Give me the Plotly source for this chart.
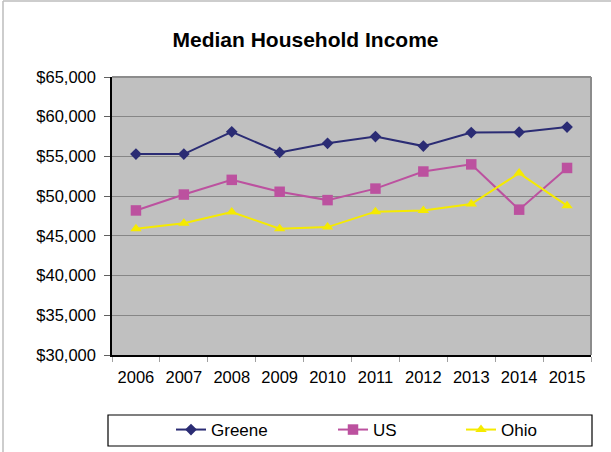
import plotly.graph_objects as go

# Median household income by year
years = ["2006", "2007", "2008", "2009", "2010", "2011", "2012", "2013", "2014", "2015"]
greene = [55300, 55300, 58100, 55500, 56650, 57500, 56300, 58000, 58050, 58700]
us = [48200, 50200, 52050, 50550, 49500, 50950, 53100, 54000, 48300, 53550]
ohio = [45900, 46600, 48000, 45900, 46100, 48050, 48200, 49000, 52900, 48800]

y_ticks = [30000, 35000, 40000, 45000, 50000, 55000, 60000, 65000]
y_tick_text = ["$30,000", "$35,000", "$40,000", "$45,000", "$50,000", "$55,000", "$60,000", "$65,000"]

FONT = "Liberation Sans, Arial, sans-serif"

series = [
    ("Greene", greene, "#2B2C74", "diamond", 9, "legend"),
    ("US", us, "#BC519F", "square", 10.5, "legend2"),
    ("Ohio", ohio, "#F5EA00", "triangle-up", 10, "legend3"),
]

fig = go.Figure()
for name, vals, color, symbol, msize, leg in series:
    fig.add_trace(go.Scatter(
        x=years, y=vals, name=name, mode="lines+markers",
        line=dict(color=color, width=2),
        marker=dict(symbol=symbol, size=msize, color=color, line=dict(width=0)),
        legend=leg,
    ))

W, H = 611, 452
ML, MR, MT, MB = 112, 20, 77, 97
PW, PH = W - ML - MR, H - MT - MB


def px_x(x):
    return (x - ML) / PW


def px_y(y):
    return (H - MB - y) / PH


legend_common = dict(
    orientation="h", xref="container", yref="container",
    xanchor="left", yanchor="middle", y=(H - 430) / H,
    bgcolor="rgba(0,0,0,0)", borderwidth=0,
    font=dict(family=FONT, size=17, color="#000000"),
)

fig.update_layout(
    width=W, height=H,
    margin=dict(l=ML, r=MR, t=MT, b=MB, autoexpand=False),
    paper_bgcolor="#FFFFFF",
    plot_bgcolor="#C0C0C0",
    title=dict(
        text="<b>Median Household Income</b>",
        x=0.5, xref="container", xanchor="center",
        y=1 - 40 / H, yref="container", yanchor="middle",
        font=dict(family=FONT, size=21, color="#000000"),
    ),
    xaxis=dict(
        type="category", categoryorder="array", categoryarray=years,
        range=[-0.5, len(years) - 0.5], automargin=False,
        tickson="boundaries", ticks="outside", ticklen=5, tickcolor="#A0A0A0",
        ticklabelstandoff=6,
        showgrid=False, zeroline=False,
        showline=True, linecolor="#000000", linewidth=1.5,
        tickfont=dict(family=FONT, size=16.5, color="#000000"),
        fixedrange=True,
    ),
    yaxis=dict(
        range=[30000, 65000], tickvals=y_ticks, ticktext=y_tick_text,
        automargin=False,
        ticks="outside", ticklen=6, tickcolor="#606060",
        ticklabelstandoff=5,
        showgrid=True, gridcolor="#868686", gridwidth=1.2,
        zeroline=False,
        showline=True, linecolor="#000000", linewidth=1.5,
        tickfont=dict(family=FONT, size=16.5, color="#000000"),
        fixedrange=True,
    ),
    legend=dict(legend_common, x=(188 - 17) / W),
    legend2=dict(legend_common, x=(350 - 17) / W),
    legend3=dict(legend_common, x=(478 - 17) / W),
    showlegend=True,
    shapes=[
        # plot area frame on top and right
        dict(type="line", xref="paper", yref="paper", x0=0, x1=1, y0=1, y1=1,
             line=dict(color="#8C8C8C", width=2), layer="above"),
        dict(type="line", xref="paper", yref="paper", x0=1, x1=1, y0=0, y1=1,
             line=dict(color="#8C8C8C", width=2), layer="above"),
        # legend box
        dict(type="rect", xref="paper", yref="paper",
             x0=px_x(108), x1=px_x(592), y0=px_y(446), y1=px_y(415),
             line=dict(color="#000000", width=1.2), fillcolor="rgba(0,0,0,0)"),
        # chart area edge (top and left)
        dict(type="line", xref="paper", yref="paper",
             x0=px_x(3), x1=px_x(611), y0=px_y(1), y1=px_y(1),
             line=dict(color="#BDBDBD", width=1.5)),
        dict(type="line", xref="paper", yref="paper",
             x0=px_x(3), x1=px_x(3), y0=px_y(1), y1=px_y(452),
             line=dict(color="#BDBDBD", width=1.5)),
    ],
)

fig.write_html("out.html")
